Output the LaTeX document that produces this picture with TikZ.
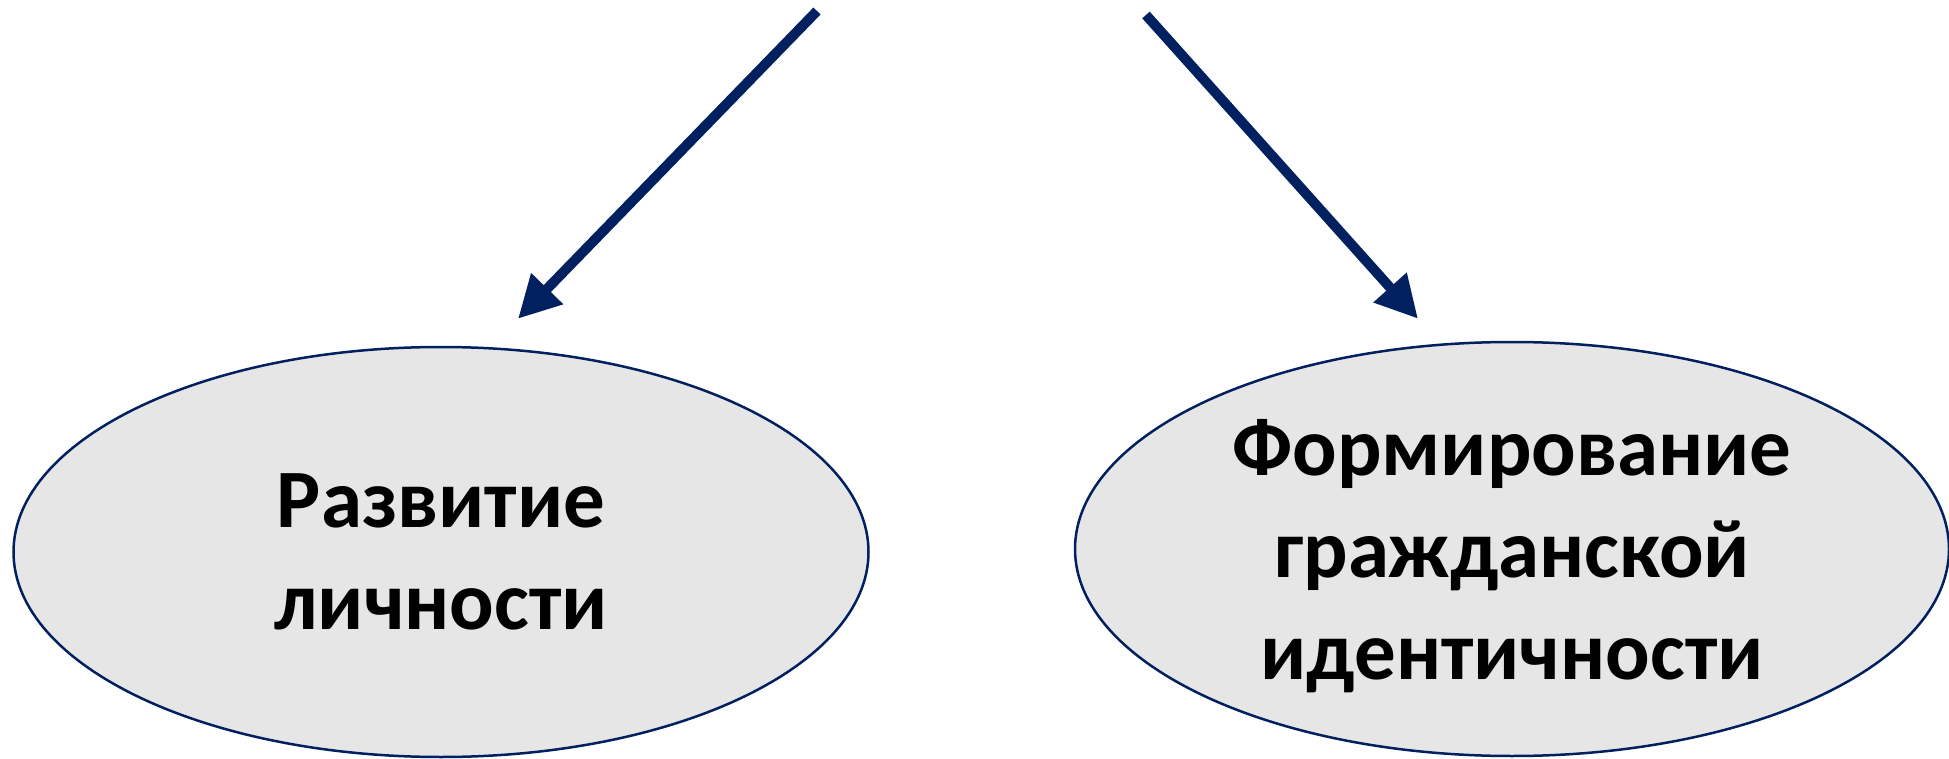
\documentclass[tikz,border=0pt]{standalone}
\usepackage{fontspec}
\setmainfont{Carlito}
\usetikzlibrary{calc,shapes.geometric,arrows.meta}
\definecolor{navy}{HTML}{002060}
\definecolor{bubble}{HTML}{E6E6E6}
\tikzset{x=1pt, y=-1pt,
  goal/.style={ellipse, draw=navy, fill=bubble, line width=2.5pt,
        inner sep=0pt, align=center,
        font=\fontsize{83}{102}\selectfont\bfseries},
  push/.style={draw=navy, line width=10pt,
        -{Triangle[length=42pt,width=42pt]}}
}

\begin{document}
\begin{tikzpicture}
\useasboundingbox (0,0) rectangle (1949,759);
\node[goal, minimum width=855, minimum height=410] (dev) at (441,552)
  {Развитие\\личности};
\node[goal, minimum width=874, minimum height=414] (idn) at (1512,549)
  {\rule{0pt}{70pt}Формирование\\гражданской\\идентичности};
% arrows come from above the page
\coordinate (devsrc) at (817,11);
\coordinate (idnsrc) at (1146,15);
\coordinate (devtip) at ($(dev.north)+(77,-27)$);
\coordinate (idntip) at ($(idn.north)+(-94,-22)$);
\draw[push] (devsrc) -- (devtip);
\draw[push] (idnsrc) -- (idntip);
\end{tikzpicture}
\end{document}
